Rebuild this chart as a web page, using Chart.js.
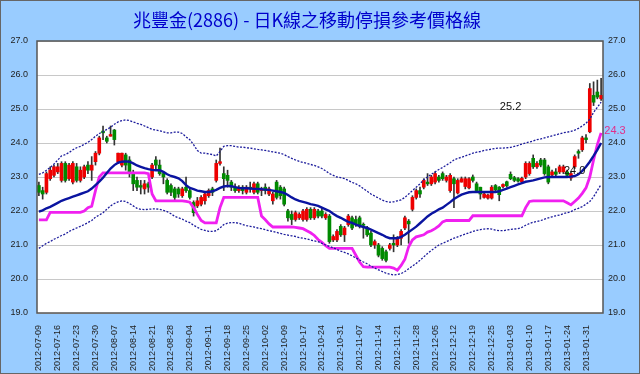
<!DOCTYPE html>
<html>
<head>
<meta charset="utf-8">
<script src="https://cdn.jsdelivr.net/npm/chart.js@4.4.1/dist/chart.umd.min.js"></script>
<style>
  html, body { margin: 0; padding: 0; background: #99ccff; }
  canvas { display: block; }
</style>
</head>
<body>
<canvas id="chartK" width="640" height="374"></canvas>
<script>
// 交易日
const dates = [
  "2012-07-09","2012-07-10","2012-07-11","2012-07-12","2012-07-13","2012-07-16","2012-07-17","2012-07-18","2012-07-19","2012-07-20",
  "2012-07-23","2012-07-24","2012-07-25","2012-07-26","2012-07-27","2012-07-30","2012-07-31","2012-08-01","2012-08-03","2012-08-06",
  "2012-08-07","2012-08-08","2012-08-09","2012-08-10","2012-08-13","2012-08-14","2012-08-15","2012-08-16","2012-08-17","2012-08-20",
  "2012-08-21","2012-08-22","2012-08-23","2012-08-24","2012-08-27","2012-08-28","2012-08-29","2012-08-30","2012-08-31","2012-09-03",
  "2012-09-04","2012-09-05","2012-09-06","2012-09-07","2012-09-10","2012-09-11","2012-09-12","2012-09-13","2012-09-14","2012-09-17",
  "2012-09-18","2012-09-19","2012-09-20","2012-09-21","2012-09-24","2012-09-25","2012-09-26","2012-09-27","2012-09-28","2012-10-01",
  "2012-10-02","2012-10-03","2012-10-04","2012-10-05","2012-10-08","2012-10-09","2012-10-11","2012-10-12","2012-10-15","2012-10-16",
  "2012-10-17","2012-10-18","2012-10-19","2012-10-22","2012-10-23","2012-10-24","2012-10-25","2012-10-26","2012-10-29","2012-10-30",
  "2012-10-31","2012-11-01","2012-11-02","2012-11-05","2012-11-06","2012-11-07","2012-11-08","2012-11-09","2012-11-12","2012-11-13",
  "2012-11-14","2012-11-15","2012-11-16","2012-11-19","2012-11-20","2012-11-21","2012-11-22","2012-11-23","2012-11-26","2012-11-27",
  "2012-11-28","2012-11-29","2012-11-30","2012-12-03","2012-12-04","2012-12-05","2012-12-06","2012-12-07","2012-12-10","2012-12-11",
  "2012-12-12","2012-12-13","2012-12-14","2012-12-17","2012-12-18","2012-12-19","2012-12-20","2012-12-21","2012-12-22","2012-12-24",
  "2012-12-25","2012-12-26","2012-12-27","2012-12-28","2013-01-02","2013-01-03","2013-01-04","2013-01-07","2013-01-08","2013-01-09",
  "2013-01-10","2013-01-11","2013-01-14","2013-01-15","2013-01-16","2013-01-17","2013-01-18","2013-01-21","2013-01-22","2013-01-23",
  "2013-01-24","2013-01-25","2013-01-28","2013-01-29","2013-01-30","2013-01-31","2013-02-01","2013-02-04","2013-02-05","2013-02-06"
];

// 日K: 開 高 低 收
const openPrice = [
  22.75,22.6,22.55,22.95,23.05,23.15,22.9,23.4,22.95,22.85,
  23.3,22.9,23.0,23.35,23.2,23.45,23.7,24.35,24.15,24.2,
  24.38,23.45,23.35,23.65,23.5,23.1,22.9,22.75,22.65,22.8,
  23.0,23.5,23.35,23.1,22.9,22.75,22.65,22.65,22.45,22.7,
  22.6,22.25,22.15,22.2,22.3,22.45,22.65,22.9,23.4,23.1,
  23.05,22.85,22.7,22.6,22.7,22.55,22.7,22.55,22.8,22.6,
  22.7,22.5,22.3,22.85,22.7,22.65,22.0,21.9,21.75,21.8,
  21.75,21.75,22.05,21.8,22.0,22.0,21.8,21.85,21.15,21.15,
  21.55,21.3,21.6,21.8,21.75,21.8,21.6,21.5,21.35,21.0,
  21.0,20.9,20.8,20.9,21.05,21.0,21.2,21.5,21.7,22.05,
  22.4,22.6,22.7,22.85,22.8,22.85,23.0,23.1,22.9,22.6,
  22.95,22.53,22.85,22.72,22.68,23.0,22.8,22.7,22.4,22.38,
  22.38,22.75,22.7,22.72,22.86,23.08,22.98,22.95,22.86,23.0,
  23.1,23.55,23.3,23.5,23.5,23.3,23.06,23.15,23.15,23.15,
  23.15,22.97,23.3,23.75,23.8,24.15,24.33,25.4,25.5,25.3
];
const highPrice = [
  22.85,22.7,23.15,23.3,23.35,23.4,23.45,23.45,23.4,23.45,
  23.4,23.3,23.35,23.45,23.6,23.75,24.2,24.5,24.2,24.5,
  24.4,23.7,23.7,23.7,23.6,23.2,23.0,22.9,22.9,22.85,
  23.4,23.6,23.5,23.15,22.95,22.8,22.7,22.7,22.7,23.0,
  22.65,22.3,22.4,22.45,22.55,22.65,22.7,23.5,23.85,23.3,
  23.2,22.9,22.8,22.75,22.75,22.75,22.85,22.85,22.85,22.7,
  22.8,22.7,22.55,22.9,22.75,22.7,22.05,22.0,22.0,21.95,
  22.05,22.1,22.1,22.1,22.05,22.1,21.95,21.9,21.3,21.45,
  21.6,21.55,21.9,21.85,21.85,21.85,21.65,21.55,21.4,21.15,
  21.05,20.95,20.85,21.05,21.3,21.25,21.45,21.85,21.75,22.45,
  22.65,22.7,22.95,23.1,23.05,23.15,23.05,23.15,23.05,23.1,
  23.0,22.95,23.0,23.0,22.98,23.06,22.85,22.7,22.55,22.5,
  22.75,22.78,22.72,22.8,22.88,23.15,23.02,22.98,23.0,23.45,
  23.45,23.65,23.45,23.55,23.55,23.35,23.2,23.25,23.35,23.35,
  23.2,23.15,23.65,23.8,24.2,24.25,25.75,25.8,25.85,25.9
];
const lowPrice = [
  22.45,22.35,22.5,22.9,23.0,23.1,22.85,22.85,22.9,22.8,
  22.85,22.85,22.95,23.1,22.9,23.35,23.65,24.1,24.0,24.2,
  23.94,23.4,23.3,23.2,23.0,22.6,22.6,22.5,22.5,22.55,
  22.95,23.2,23.05,22.8,22.5,22.45,22.3,22.4,22.4,22.55,
  22.35,21.85,22.1,22.15,22.2,22.4,22.45,22.85,23.35,22.6,
  22.7,22.6,22.55,22.55,22.5,22.5,22.55,22.5,22.5,22.45,
  22.5,22.45,22.2,22.35,22.35,22.15,21.7,21.6,21.7,21.75,
  21.7,21.7,21.75,21.75,21.8,21.8,21.75,21.05,21.1,21.1,
  21.25,21.1,21.55,21.45,21.55,21.5,21.2,21.25,20.95,20.9,
  20.65,20.55,20.5,20.85,20.8,20.95,21.0,21.45,21.05,22.0,
  22.35,22.4,22.65,22.75,22.75,22.8,22.85,22.9,22.85,22.55,
  22.1,22.5,22.85,22.65,22.65,22.85,22.55,22.35,22.38,22.35,
  22.35,22.58,22.3,22.68,22.7,22.92,22.86,22.85,22.84,22.95,
  23.05,23.25,23.25,23.3,23.05,22.8,23.0,23.0,23.1,23.1,
  23.0,22.9,23.25,23.55,23.75,24.0,24.3,25.1,25.3,25.25
];
const closePrice = [
  22.55,22.5,23.1,23.2,23.3,23.3,23.4,22.9,23.35,23.4,
  22.9,23.2,23.3,23.2,23.35,23.7,24.15,24.3,24.05,24.25,
  24.1,23.7,23.7,23.35,23.1,22.8,22.7,22.7,22.8,22.7,
  23.35,23.35,23.1,23.0,22.55,22.55,22.4,22.5,22.65,22.6,
  22.4,21.95,22.3,22.4,22.5,22.6,22.55,23.4,23.45,22.95,
  22.9,22.7,22.6,22.7,22.6,22.7,22.65,22.8,22.55,22.65,
  22.6,22.65,22.5,22.4,22.45,22.2,21.8,21.75,21.95,21.9,
  22.0,22.05,21.8,22.05,21.85,21.85,21.9,21.1,21.25,21.4,
  21.3,21.5,21.85,21.5,21.6,21.55,21.58,21.3,21.0,21.1,
  20.7,20.6,20.55,21.0,21.0,21.2,21.4,21.8,21.62,22.4,
  22.6,22.5,22.9,22.8,23.0,23.1,22.9,22.95,23.0,23.05,
  22.8,22.9,22.95,22.95,22.95,22.9,22.6,22.5,22.5,22.47,
  22.7,22.62,22.48,22.78,22.74,22.95,22.9,22.88,22.96,23.4,
  23.4,23.3,23.4,23.35,23.1,22.85,23.15,23.08,23.3,23.3,
  23.05,23.1,23.6,23.7,24.15,24.1,25.6,25.2,25.35,25.4
];

// 移動平均線
const maLine = [
  21.98,22.02,22.08,22.12,22.18,22.24,22.30,22.34,22.38,22.42,
  22.46,22.50,22.54,22.58,22.66,22.76,22.86,22.98,23.12,23.25,
  23.35,23.42,23.45,23.46,23.45,23.40,23.34,23.30,23.26,23.23,
  23.21,23.20,23.20,23.15,23.08,23.03,23.00,22.96,22.88,22.76,
  22.68,22.64,22.60,22.58,22.56,22.56,22.58,22.62,22.68,22.72,
  22.74,22.73,22.70,22.68,22.67,22.67,22.66,22.65,22.65,22.64,
  22.63,22.62,22.60,22.58,22.56,22.53,22.47,22.40,22.34,22.30,
  22.27,22.24,22.20,22.18,22.15,22.10,22.05,22.00,21.92,21.85,
  21.80,21.74,21.68,21.65,21.60,21.56,21.53,21.50,21.45,21.40,
  21.35,21.30,21.24,21.20,21.20,21.20,21.24,21.30,21.38,21.46,
  21.54,21.64,21.74,21.84,21.92,21.98,22.05,22.10,22.18,22.26,
  22.35,22.42,22.48,22.52,22.55,22.56,22.56,22.56,22.56,22.56,
  22.56,22.56,22.58,22.62,22.66,22.70,22.74,22.78,22.82,22.86,
  22.88,22.90,22.93,22.96,22.99,23.00,23.00,23.00,23.00,23.00,
  23.00,23.01,23.03,23.08,23.18,23.30,23.45,23.62,23.80,24.00
];
// 上軌
const upperBand = [
  23.08,23.12,23.20,23.28,23.38,23.50,23.62,23.66,23.72,23.80,
  23.86,23.90,23.96,24.02,24.10,24.20,24.28,24.33,24.40,24.46,
  24.55,24.62,24.66,24.68,24.66,24.62,24.58,24.55,24.50,24.45,
  24.40,24.38,24.36,24.33,24.30,24.30,24.32,24.32,24.28,24.18,
  24.10,23.95,23.78,23.70,23.70,23.68,23.66,23.62,23.75,23.90,
  23.92,23.92,23.90,23.88,23.88,23.86,23.85,23.83,23.81,23.80,
  23.78,23.76,23.74,23.72,23.70,23.66,23.60,23.55,23.50,23.46,
  23.43,23.40,23.37,23.34,23.30,23.25,23.18,23.10,23.05,23.00,
  22.98,22.95,22.90,22.84,22.80,22.74,22.66,22.58,22.50,22.44,
  22.38,22.32,22.28,22.26,22.27,22.30,22.33,22.40,22.50,22.60,
  22.70,22.80,22.92,23.00,23.08,23.15,23.22,23.28,23.35,23.42,
  23.50,23.55,23.58,23.62,23.66,23.70,23.73,23.75,23.78,23.80,
  23.82,23.84,23.85,23.85,23.86,23.87,23.90,23.93,23.97,24.00,
  24.03,24.06,24.10,24.12,24.15,24.18,24.21,24.24,24.27,24.30,
  24.32,24.34,24.38,24.43,24.50,24.58,24.70,24.90,25.05,25.20
];
// 下軌
const lowerBand = [
  20.90,20.98,21.05,21.10,21.17,21.22,21.28,21.32,21.40,21.45,
  21.50,21.55,21.60,21.66,21.72,21.82,21.88,21.95,22.05,22.15,
  22.22,22.27,22.30,22.28,22.22,22.15,22.08,22.05,22.04,22.05,
  22.06,22.06,22.05,22.02,21.98,21.92,21.84,21.80,21.76,21.70,
  21.66,21.58,21.52,21.46,21.43,21.40,21.40,21.42,21.50,21.60,
  21.64,21.66,21.66,21.64,21.60,21.57,21.55,21.53,21.50,21.48,
  21.45,21.42,21.40,21.37,21.34,21.31,21.29,21.27,21.25,21.22,
  21.20,21.18,21.15,21.12,21.10,21.05,21.00,20.96,20.92,20.87,
  20.82,20.78,20.74,20.68,20.62,20.56,20.50,20.45,20.38,20.32,
  20.27,20.22,20.17,20.14,20.12,20.13,20.16,20.22,20.30,20.38,
  20.46,20.55,20.65,20.75,20.84,20.92,21.00,21.05,21.10,21.15,
  21.20,21.24,21.28,21.32,21.36,21.40,21.43,21.45,21.47,21.48,
  21.47,21.44,21.42,21.42,21.44,21.46,21.47,21.48,21.52,21.58,
  21.63,21.67,21.69,21.72,21.76,21.80,21.83,21.86,21.88,21.92,
  21.95,21.98,22.04,22.08,22.13,22.20,22.28,22.42,22.60,22.78
];
// 移動停損線
const stopLine = [
  21.74,21.74,21.74,21.96,21.96,21.96,21.96,21.96,21.96,21.96,
  21.96,21.96,22.00,22.10,22.14,22.60,23.00,23.12,23.12,23.12,
  23.12,23.12,23.12,23.12,23.12,23.12,23.12,23.12,23.12,23.10,
  22.50,22.30,22.30,22.30,22.30,22.30,22.30,22.30,22.30,22.28,
  22.26,22.10,21.90,21.72,21.65,21.65,21.65,21.65,22.10,22.40,
  22.40,22.40,22.40,22.40,22.40,22.40,22.40,22.40,22.40,21.85,
  21.74,21.62,21.53,21.53,21.53,21.53,21.53,21.53,21.52,21.50,
  21.48,21.42,21.36,21.28,21.16,21.08,20.98,20.90,20.90,20.90,
  20.90,20.90,20.90,20.90,20.70,20.50,20.36,20.35,20.35,20.35,
  20.35,20.35,20.35,20.35,20.32,20.26,20.40,20.58,20.95,21.15,
  21.24,21.27,21.30,21.38,21.42,21.48,21.56,21.68,21.72,21.72,
  21.72,21.72,21.72,21.72,21.72,21.86,21.86,21.86,21.86,21.86,
  21.86,21.86,21.86,21.86,21.86,21.86,21.86,21.86,21.86,22.10,
  22.28,22.30,22.30,22.30,22.30,22.30,22.30,22.30,22.30,22.30,
  22.24,22.18,22.28,22.38,22.52,22.68,23.00,23.50,23.95,24.30
];

const titleText = "兆豐金(2886) - 日K線之移動停損參考價格線";
const yMin = 19;
const yMax = 27;

const bodyColors = openPrice.map((o, i) => (closePrice[i] >= o ? "#ee0000" : "#008a00"));

// 背景、標題、外框
const framePlugin = {
  id: "frame",
  beforeDraw(chart) {
    const { ctx, chartArea } = chart;
    ctx.save();
    ctx.fillStyle = "#99ccff";
    ctx.fillRect(0, 0, chart.width, chart.height);
    ctx.fillStyle = "#ffffff";
    ctx.fillRect(chartArea.left, chartArea.top, chartArea.right - chartArea.left, chartArea.bottom - chartArea.top);
    ctx.font = '18px "Noto Sans CJK TC"';
    ctx.fillStyle = "#0000cc";
    ctx.textAlign = "center";
    ctx.textBaseline = "middle";
    ctx.fillText(titleText, 307, 20);
    ctx.restore();
  },
  afterDraw(chart) {
    const { ctx, chartArea } = chart;
    ctx.save();
    ctx.strokeStyle = "#555555";
    ctx.lineWidth = 1.5;
    ctx.strokeRect(chartArea.left, chartArea.top, chartArea.right - chartArea.left, chartArea.bottom - chartArea.top);
    ctx.strokeStyle = "#666666";
    ctx.lineWidth = 1;
    ctx.strokeRect(0.5, 0.5, chart.width - 1, chart.height - 1);
    ctx.restore();
  },
};

// 線尾數值標示
const valuePlugin = {
  id: "values",
  afterDatasetsDraw(chart) {
    const { ctx, chartArea } = chart;
    const x = chart.scales.x;
    const y = chart.scales.y;
    const last = dates.length - 1;
    ctx.save();
    ctx.font = "11px Arial";
    ctx.textAlign = "center";
    ctx.textBaseline = "middle";
    ctx.fillStyle = "#111111";
    ctx.fillText(upperBand[last].toFixed(1), x.getPixelForValue(125), y.getPixelForValue(25.06));
    ctx.fillText(maLine[last].toFixed(1), x.getPixelForValue(142), y.getPixelForValue(23.18));
    ctx.fillStyle = "#e0308a";
    ctx.fillText(stopLine[last].toFixed(1), chartArea.right + 12, y.getPixelForValue(24.35));
    ctx.restore();
  },
};

const ctx = document.getElementById("chartK").getContext("2d");
new Chart(ctx, {
  data: {
    labels: dates,
    datasets: [
      {
        type: "line",
        data: upperBand,
        borderColor: "#1c1c9c",
        borderWidth: 1.3,
        borderDash: [2, 1.5],
        pointRadius: 0,
        order: 0,
      },
      {
        type: "line",
        data: lowerBand,
        borderColor: "#1c1c9c",
        borderWidth: 1.3,
        borderDash: [2, 1.5],
        pointRadius: 0,
        order: 0,
      },
      {
        type: "line",
        data: maLine,
        borderColor: "#0a14a0",
        borderWidth: 2.4,
        pointRadius: 0,
        order: 0,
      },
      {
        type: "line",
        data: stopLine,
        borderColor: "#f020f0",
        borderWidth: 2.8,
        pointRadius: 0,
        order: 0,
      },
      {
        type: "bar",
        data: openPrice.map((o, i) => [o, closePrice[i]]),
        backgroundColor: bodyColors,
        barThickness: 3,
        minBarLength: 1,
        grouped: false,
        order: 1,
      },
      {
        type: "bar",
        data: lowPrice.map((l, i) => [l, highPrice[i]]),
        backgroundColor: "#333333",
        barThickness: 1,
        grouped: false,
        order: 2,
      },
    ],
  },
  options: {
    responsive: false,
    animation: false,
    layout: { padding: { top: 41, left: 0, right: 0, bottom: 0 } },
    plugins: {
      legend: { display: false },
      tooltip: { enabled: false },
    },
    scales: {
      x: {
        type: "category",
        offset: true,
        grid: { display: false },
        border: { display: false },
        ticks: {
          autoSkip: false,
          minRotation: 90,
          maxRotation: 90,
          padding: 4,
          color: "#222222",
          font: { family: "Arial", size: 9 },
          callback: (v, i) => (i % 5 === 0 ? dates[i] : ""),
        },
        afterFit: (scale) => { scale.height = 61; },
      },
      y: {
        position: "left",
        min: yMin,
        max: yMax,
        grid: { color: "#c8c8c8", drawTicks: false },
        border: { display: false },
        ticks: {
          stepSize: 1,
          padding: 9,
          color: "#222222",
          font: { family: "Arial", size: 9 },
          callback: (v) => v.toFixed(1),
        },
        afterFit: (scale) => { scale.width = 37; },
      },
      y2: {
        position: "right",
        min: yMin,
        max: yMax,
        grid: { display: false, drawTicks: false },
        border: { display: false },
        ticks: {
          stepSize: 1,
          padding: 5,
          color: "#222222",
          font: { family: "Arial", size: 9 },
          callback: (v) => v.toFixed(1),
        },
        afterFit: (scale) => { scale.width = 37; },
      },
    },
  },
  plugins: [framePlugin, valuePlugin],
});
</script>
</body>
</html>
